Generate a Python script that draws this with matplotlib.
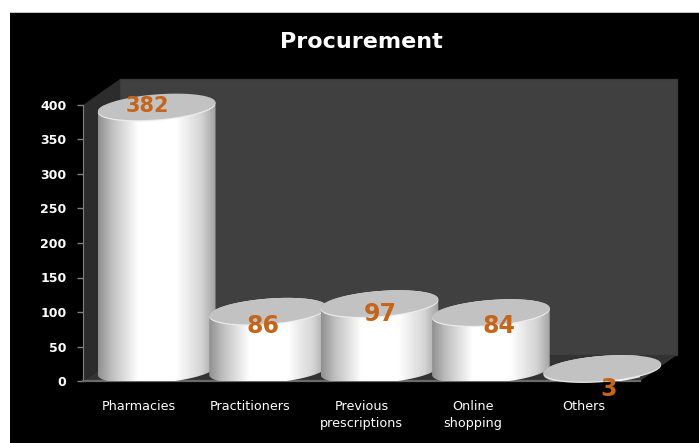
import numpy as np
import matplotlib
matplotlib.use("Agg")
import matplotlib.pyplot as plt
from matplotlib.patches import Polygon, Rectangle
from matplotlib.colors import LinearSegmentedColormap

categories = ["Pharmacies", "Practitioners", "Previous\nprescriptions", "Online\nshopping", "Others"]
values = [382, 86, 97, 84, 3]
y_ticks = [0, 50, 100, 150, 200, 250, 300, 350, 400]

W, H = 699, 443
fig = plt.figure(figsize=(W / 100, H / 100), dpi=100, facecolor="white")
plt.rcParams["font.family"] = ["DejaVu Sans"]

# page background, chart starts a bit in from the top left
fig.add_artist(Rectangle((10 / W, 0), 1 - 10 / W, 1 - 12 / H, transform=fig.transFigure,
                         facecolor="black", edgecolor="none", zorder=-2))
fig.add_artist(Rectangle((10 / W, 1 - 13 / H), 1 - 10 / W, 1 / H, transform=fig.transFigure,
                         facecolor="#c4c4c4", edgecolor="none", zorder=-1))

# front plane of the 3d box
left, right, top, bottom = 83, 640, 105, 381
ax = fig.add_axes([left / W, 1 - bottom / H, (right - left) / W, (bottom - top) / H])
ax.set_xlim(-0.5, 4.5)
ax.set_ylim(0, 400)
ax.patch.set_alpha(0)

px_x = 5 / (right - left)        # data units per pixel
px_y = 400 / (bottom - top)
depth_x, depth_y = 37 * px_x, 26 * px_y
x0, x1 = -0.5, 4.5

ax.add_patch(Polygon([(x0 + depth_x, depth_y), (x1 + depth_x, depth_y), (x1 + depth_x, 400 + depth_y), (x0 + depth_x, 400 + depth_y)],
                     facecolor="#404040", edgecolor="#3a3a3a", clip_on=False, zorder=1))
ax.add_patch(Polygon([(x0, 0), (x0 + depth_x, depth_y), (x0 + depth_x, 400 + depth_y), (x0, 400)],
                     facecolor="#2c2c2c", edgecolor="none", clip_on=False, zorder=1))
ax.add_patch(Polygon([(x0, 0), (x1, 0), (x1 + depth_x, depth_y), (x0 + depth_x, depth_y)],
                     facecolor="#333333", edgecolor="none", clip_on=False, zorder=1))

# cylinder shape
rx, ry, tilt = 59, 12.5, np.deg2rad(4.5)
off_x, off_y = 18 * px_x, 10.5 * px_y
side = LinearSegmentedColormap.from_list("side", [(0, "#909090"), (0.12, "#c0c0c0"), (0.34, "#ffffff"),
                                                  (0.66, "#ffffff"), (0.88, "#d4d4d4"), (1, "#a0a0a0")])
gradient = np.linspace(0, 1, 256).reshape(1, -1)


def ellipse(cx, cy, t):
    ex = rx * np.cos(t) * np.cos(tilt) - ry * np.sin(t) * np.sin(tilt)
    ey = rx * np.cos(t) * np.sin(tilt) + ry * np.sin(t) * np.cos(tilt)
    return np.column_stack([cx + ex * px_x, cy + ey * px_y])


for i, v in enumerate(values):
    z = 3 + i
    cx, base, tip = i + off_x, off_y, v + off_y
    t_full = np.linspace(0, 2 * np.pi, 120)
    lower = ellipse(cx, base, np.linspace(np.pi, 2 * np.pi, 60))
    upper = ellipse(cx, tip, np.linspace(0, np.pi, 60))
    body = Polygon(np.vstack([lower, upper]), facecolor="none", edgecolor="none", clip_on=False, zorder=z)
    ax.add_patch(body)
    im = ax.imshow(gradient, cmap=side, extent=(cx - rx * px_x, cx + rx * px_x, base - 30 * px_y, tip + 30 * px_y),
                   aspect="auto", zorder=z, interpolation="bilinear")
    im.set_clip_path(body)
    # light rim under the top face
    rim = Polygon(ellipse(cx, tip - 1.2 * px_y, t_full), facecolor="#ececec", edgecolor="none", clip_on=False, zorder=z)
    ax.add_patch(rim)
    ax.add_patch(Polygon(ellipse(cx, tip, t_full), facecolor="#c2c2c2", edgecolor="none", clip_on=False, zorder=z))

ax.set_xlim(-0.5, 4.5)
ax.set_ylim(0, 400)

# data labels were dragged by hand in the original
label_nudge = [(-9, 11), (-5, -4), (1, 0), (8, -3), (6, -10)]
label_size = [15, 17, 17, 17, 17]
for i, v in enumerate(values):
    nx, ny = label_nudge[i]
    ax.annotate(str(v), (i + off_x, v), xytext=(nx, ny), textcoords="offset pixels", ha="center", va="center",
                color="#c4651c", fontsize=label_size[i], fontweight="bold", annotation_clip=False, zorder=20)

ax.set_xticks(range(len(categories)), categories)
ax.set_yticks(y_ticks)
ax.tick_params(axis="x", length=0, pad=14, colors="white", labelsize=9.2)
ax.tick_params(axis="y", length=4, width=1, color="#808080", labelcolor="white", labelsize=9, pad=8)
for lab in ax.get_yticklabels():
    lab.set_fontweight("bold")
for lab in ax.get_xticklabels():
    lab.set_linespacing(1.4)

for s in ["top", "right"]:
    ax.spines[s].set_visible(False)
ax.spines["left"].set_color("#808080")
ax.spines["bottom"].set_color("#6a6a6a")
ax.spines["bottom"].set_linewidth(1.6)
ax.spines["left"].set_zorder(2)
ax.spines["bottom"].set_zorder(2)

ax.set_title("Procurement", color="white", fontsize=16, fontweight="bold", pad=41)

fig.savefig("out.png", dpi=100, facecolor="white")
